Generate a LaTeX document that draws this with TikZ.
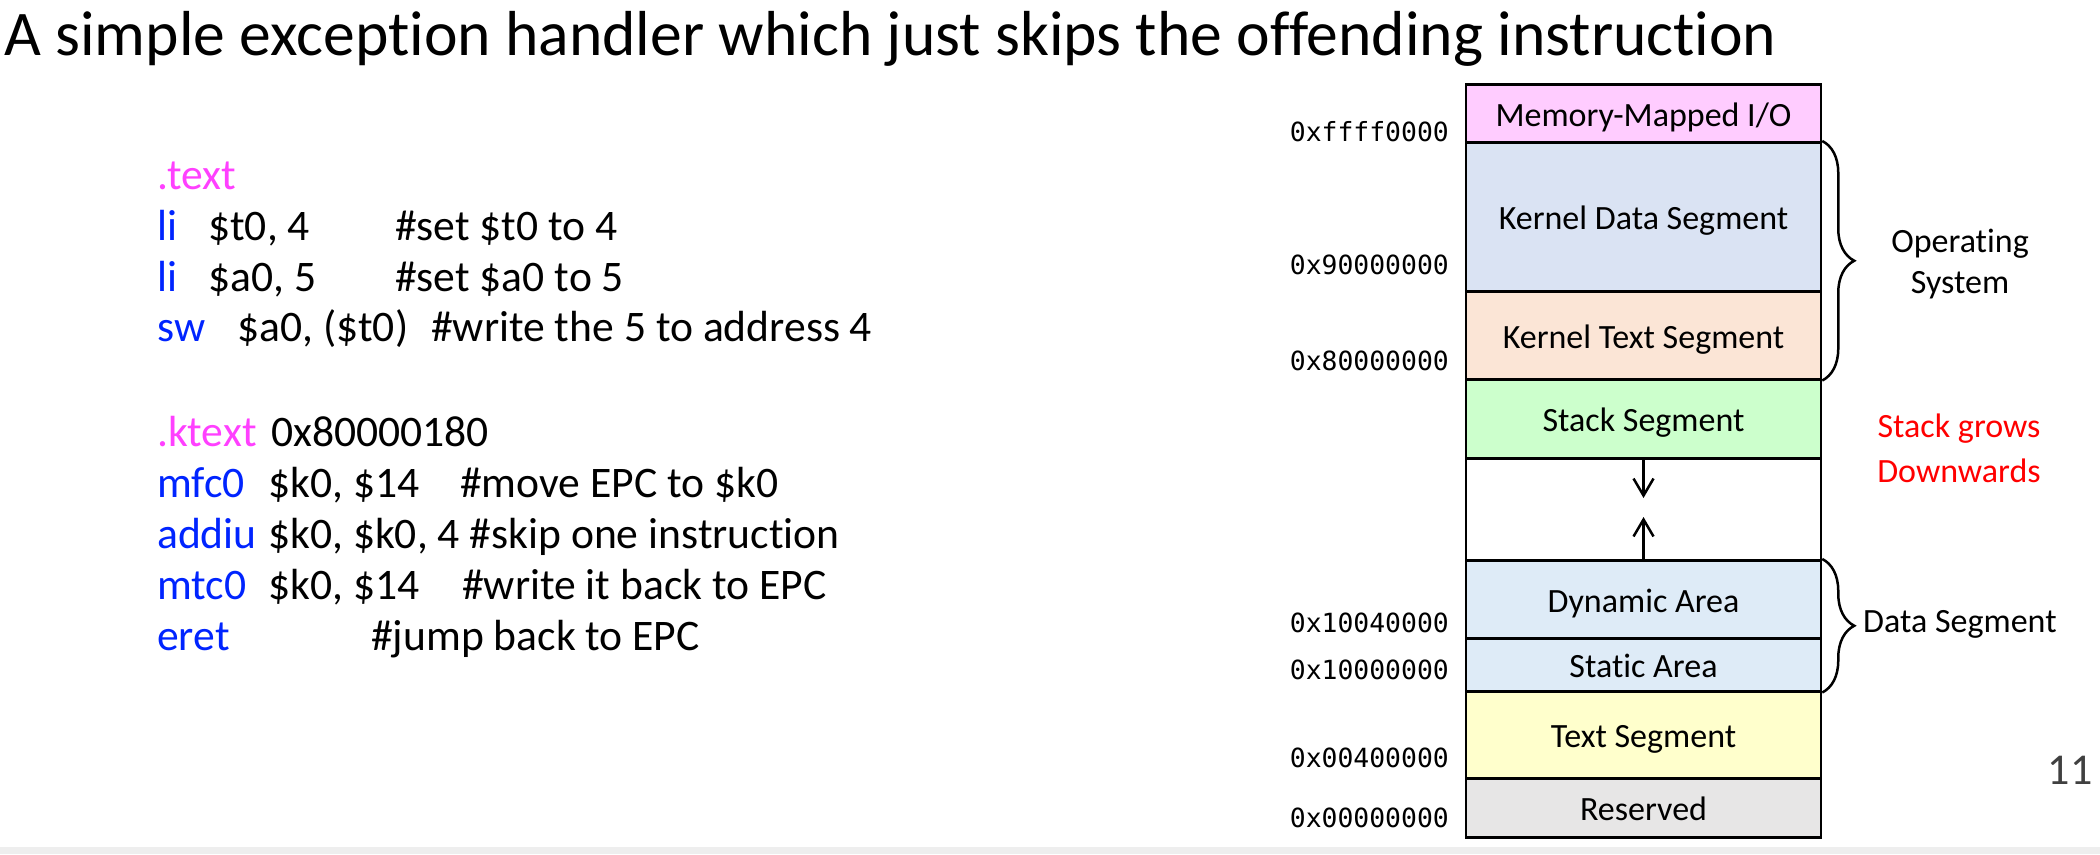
\documentclass[tikz,border=0pt]{standalone}
\usepackage{fontspec}
\setmainfont{Carlito}[RawFeature={-liga;-clig;-dlig}]
\newfontfamily\addrfont{DejaVu Sans Mono}
\usetikzlibrary{arrows.meta,decorations.pathreplacing}
\definecolor{kwblue}{RGB}{0,36,255}
\definecolor{dirmag}{RGB}{255,64,255}
\definecolor{mmiofill}{RGB}{255,204,255}
\definecolor{kdatafill}{RGB}{218,227,243}
\definecolor{ktextfill}{RGB}{251,229,214}
\definecolor{stackfill}{RGB}{204,255,204}
\definecolor{datafill}{RGB}{222,235,247}
\definecolor{textfill}{RGB}{255,255,204}
\definecolor{resvfill}{RGB}{231,230,230}
\definecolor{bandgray}{RGB}{238,238,238}
\definecolor{pagegray}{RGB}{64,64,64}
\begin{document}
\begin{tikzpicture}[x=1pt,y=-1pt,
  code/.style={anchor=base west,inner sep=0pt,font=\fontsize{43.6}{52}\selectfont},
  kw/.style={code,text=kwblue},
  dir/.style={code,text=dirmag},
  seg/.style={draw,line width=2.5pt,minimum width=355pt,anchor=north,inner sep=0pt,
              text height=25.5pt,text depth=0pt,font=\fontsize{34}{40}\selectfont},
  addr/.style={anchor=east,inner sep=0pt,font=\addrfont\fontsize{26.4}{30}\selectfont},
  lbl/.style={inner sep=0pt,font=\fontsize{34}{40}\selectfont},
  brc/.style={decorate,decoration={brace,amplitude=32pt},line width=2.5pt},
  growarrow/.style={line width=2.5pt,-{Straight Barb[length=17pt,width=20pt,line width=2.5pt]}},
]
\useasboundingbox (0,0) rectangle (2100,854);
\fill[bandgray] (0,847) rectangle (2100,854);

% title
\node[anchor=base west,inner sep=0pt,font=\fontsize{63.6}{72}\selectfont] (title) at (4,55)
  {A simple exception handler which just skips the offending instruction};

% user program
\node[dir] (d1) at (157,189) {.text};
\node[kw]  (k2) at (157,240) {li};
\node[code] (a2) at (208,240) {\$t0, 4};
\node[code] (c2) at (395,240) {\#set \$t0 to 4};
\node[kw]  (k3) at (157,291) {li};
\node[code] (a3) at (208,291) {\$a0, 5};
\node[code] (c3) at (395,291) {\#set \$a0 to 5};
\node[kw]  (k4) at (157,341) {sw};
\node[code] (a4) at (237,341) {\$a0, (\$t0)};
\node[code] (c4) at (431,341) {\#write the 5 to address 4};

% kernel handler
\node[dir] (d6) at (157,446) {.ktext};
\node[code] (a6) at (271,446) {0x80000180};
\node[kw]  (k7) at (157,497) {mfc0};
\node[code] (a7) at (268,497) {\$k0, \$14};
\node[code] (c7) at (460,497) {\#move EPC to \$k0};
\node[kw]  (k8) at (157,548) {addiu};
\node[code] (a8) at (268,548) {\$k0, \$k0, 4 \#skip one instruction};
\node[kw]  (k9) at (157,599) {mtc0};
\node[code] (a9) at (268,599) {\$k0, \$14};
\node[code] (c9) at (462,599) {\#write it back to EPC};
\node[kw]  (k10) at (157,650) {eret};
\node[code] (c10) at (371,650) {\#jump back to EPC};

% memory map
\node[seg,fill=mmiofill,minimum height=58pt]  (mmio)  at (1643.5,83)  {Memory-Mapped I/O};
\node[seg,fill=kdatafill,minimum height=149pt] (kdata) at (1643.5,141) {Kernel Data Segment};
\node[seg,fill=ktextfill,minimum height=88pt]  (ktext) at (1643.5,290) {Kernel Text Segment};
\node[seg,fill=stackfill,minimum height=79pt]  (stack) at (1643.5,378) {Stack Segment};
\node[seg,fill=white,minimum height=102pt]     (free)  at (1643.5,457) {};
\node[seg,fill=datafill,minimum height=78pt]   (dyn)   at (1643.5,559) {Dynamic Area};
\node[seg,fill=datafill,minimum height=53pt]   (stat)  at (1643.5,637) {Static Area};
\node[seg,fill=textfill,minimum height=87pt]   (tseg)  at (1643.5,690) {Text Segment};
\node[seg,fill=resvfill,minimum height=59pt]   (resv)  at (1643.5,777) {Reserved};

% growth arrows
\coordinate (stackend) at (1643.5,498);
\coordinate (heapend) at (1643.5,517);
\draw[growarrow] (stack.south) -- (stackend);
\draw[growarrow] (dyn.north) -- (heapend);

% addresses
\node[addr] (x1) at (1449,132) {0xffff0000};
\node[addr] (x2) at (1449,265) {0x90000000};
\node[addr] (x3) at (1449,361) {0x80000000};
\node[addr] (x4) at (1449,623) {0x10040000};
\node[addr] (x5) at (1449,670) {0x10000000};
\node[addr] (x6) at (1449,758) {0x00400000};
\node[addr] (x7) at (1449,818) {0x00000000};

% braces and side labels
\draw[brc] (kdata.north east) -- (ktext.south east);
\draw[brc] (dyn.north east) -- (stat.south east);
\node[lbl] (os1) at (1960,244) {Operating};
\node[lbl] (os2) at (1960,285) {System};
\node[lbl,text=red] (sg1) at (1959,429) {Stack grows};
\node[lbl,text=red] (sg2) at (1959,471) {Downwards};
\node[lbl,anchor=west] (dseg) at (1863,624) {Data Segment};

% page number
\node[inner sep=0pt,text=pagegray,font=\fontsize{44}{50}\selectfont] (pg) at (2070,770) {11};
\end{tikzpicture}
\end{document}
